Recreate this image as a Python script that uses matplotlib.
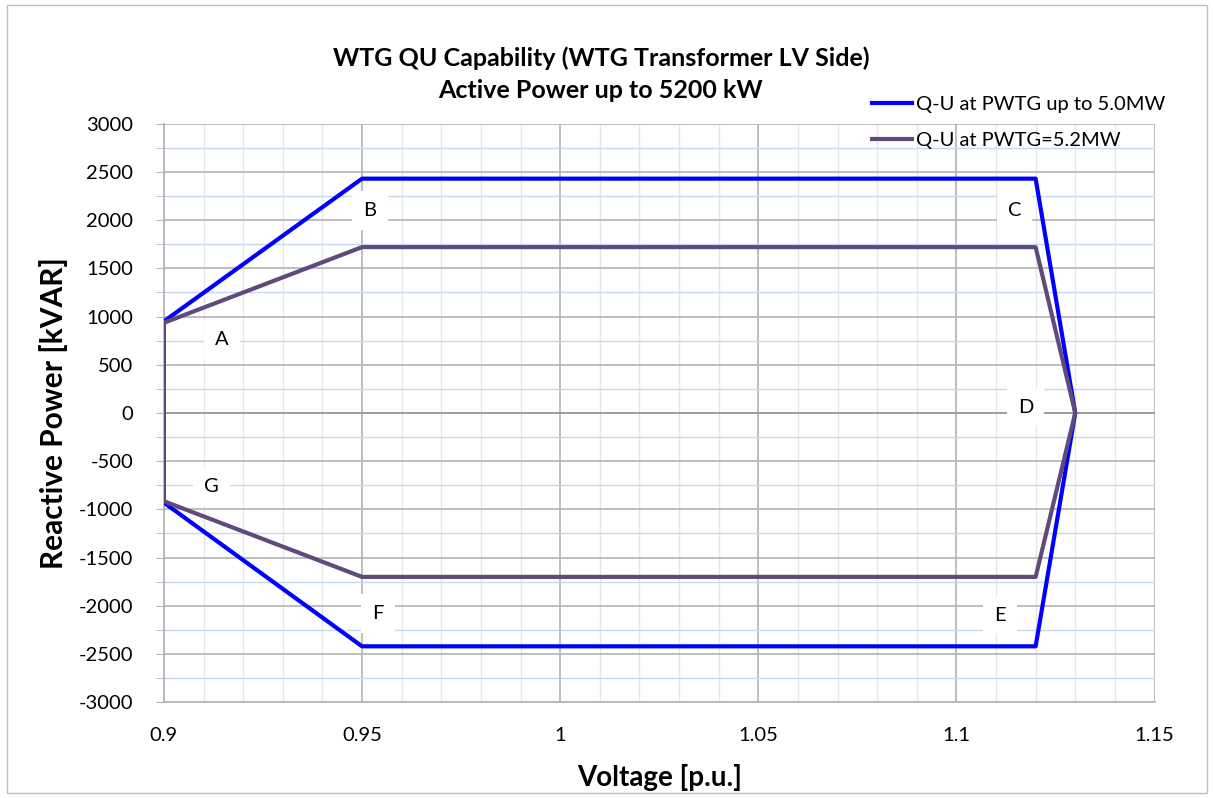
import matplotlib.pyplot as plt
from matplotlib.ticker import MultipleLocator

plt.rcParams['axes.unicode_minus'] = False
plt.rcParams['font.family'] = ['Lato', 'DejaVu Sans']

# Q-U capability polygons (voltage in p.u., reactive power in kVAR)
u_blue = [0.9, 0.95, 1.12, 1.13, 1.12, 0.95, 0.9, 0.9]
q_blue = [950, 2430, 2430, 0, -2420, -2420, -930, 950]
u_purple = [0.9, 0.95, 1.12, 1.13, 1.12, 0.95, 0.9, 0.9]
q_purple = [935, 1720, 1720, 0, -1700, -1700, -915, 935]

point_names = ['A', 'B', 'C', 'D', 'E', 'F', 'G']
point_u = [0.9146, 0.952, 1.1147, 1.1175, 1.111, 0.954, 0.912]
point_q = [760, 2100, 2100, 60, -2100, -2080, -760]

fig = plt.figure(figsize=(12.14, 7.98), dpi=100)
ax = fig.add_axes([0.135, 0.12, 0.816, 0.725])

ax.set_xlim(0.9, 1.15)
ax.set_ylim(-3000, 3000)
ax.xaxis.set_major_locator(MultipleLocator(0.05))
ax.xaxis.set_minor_locator(MultipleLocator(0.01))
ax.yaxis.set_major_locator(MultipleLocator(500))
ax.yaxis.set_minor_locator(MultipleLocator(250))

ax.grid(which='minor', axis='x', color='#e6e6e6', lw=1)
ax.grid(which='minor', axis='y', color='#c6d9f0', lw=1)
ax.grid(which='major', color='#b3b3b3', lw=1.2)
ax.set_axisbelow(True)
for s in ['top', 'right']:
    ax.spines[s].set_visible(False)
for s in ['left', 'bottom']:
    ax.spines[s].set_color('#b3b3b3')
    ax.spines[s].set_linewidth(1.2)
ax.axhline(0, color='#999999', lw=1.2, zorder=1)

ax.tick_params(which='both', axis='y', length=6, color='#b3b3b3', labelsize=14.5, pad=16)
ax.tick_params(which='both', axis='x', length=0, labelsize=14.5, pad=18)
ax.set_xticks([0.9, 0.95, 1.0, 1.05, 1.1, 1.15])
ax.set_xticklabels(['0.9', '0.95', '1', '1.05', '1.1', '1.15'])

ax.plot(u_blue, q_blue, color='#0000ff', lw=3, label='Q-U at PWTG up to 5.0MW', zorder=3)
ax.plot(u_purple, q_purple, color='#604a7b', lw=3, label='Q-U at PWTG=5.2MW', zorder=4)

for name, u, q in zip(point_names, point_u, point_q):
    ax.text(u, q, name, fontsize=14.5, ha='center', va='center', zorder=5,
            bbox=dict(boxstyle='square,pad=0.55', fc='white', ec='none'))

ax.set_xlabel('Voltage [p.u.]', fontsize=20, fontweight='bold', labelpad=14)
ax.set_ylabel('Reactive Power [kVAR]', fontsize=21.5, fontweight='bold', labelpad=8)

fig.text(0.495, 0.907, 'WTG QU Capability (WTG Transformer LV Side)\nActive Power up to 5200 kW',
         ha='center', va='center', fontsize=18, fontweight='bold', linespacing=1.45)

fig.legend(loc='upper left', bbox_to_anchor=(0.703, 0.902), frameon=False, fontsize=14.5,
           handlelength=2.0, handletextpad=0.2, labelspacing=0.9)

fig.patches.append(plt.Rectangle((0.006, 0.006), 0.988, 0.988, transform=fig.transFigure,
                                 fill=False, ec='#bfbfbf', lw=1))

fig.savefig('out.png', dpi=100)
